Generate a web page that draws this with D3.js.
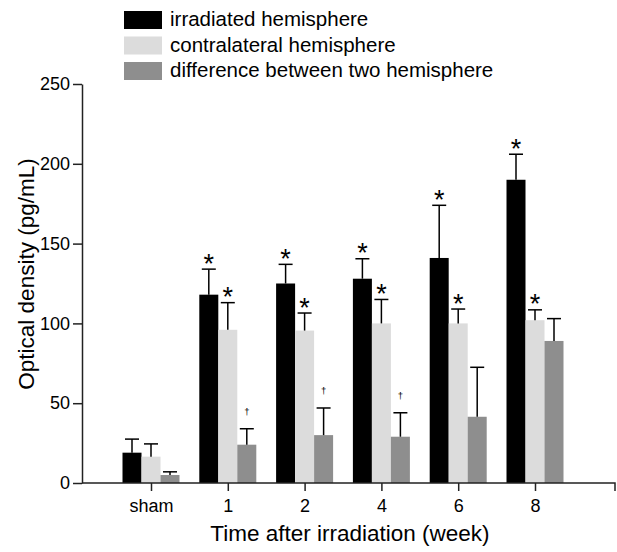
<!DOCTYPE html>
<html>
<head>
  <meta charset="utf-8">
  <title>Optical density after irradiation</title>
<script src="https://cdnjs.cloudflare.com/ajax/libs/d3/7.8.5/d3.min.js"></script>
<style>
body {
  margin: 0;
  background: White;
}

svg text {
  font-family: "Liberation Sans", Arial, Helvetica, sans-serif;
  fill: Black;
}

.axis path,
.axis line {
  stroke: #222;
  stroke-width: 1.5px;
}

.axis text {
  font-size: 18px;
}

.errbar {
  stroke: Black;
  stroke-width: 1.5px;
  fill: none;
}

.title {
  font-size: 22.5px;
}

.legend text {
  font-size: 20.5px;
}
</style>
</head>
<body>
<svg id="chart" width="617" height="552"></svg>
<script>
// values
var categories = ["sham", "1", "2", "4", "6", "8"];
var seriesNames = ["irradiated hemisphere", "contralateral hemisphere", "difference between two hemisphere"];
var seriesColors = ["#000000", "#dcdcdc", "#8e8e8e"];

var irradiated    = [19, 118, 125, 128, 141, 190];
var irradiatedSd  = [8.5, 16, 12, 12.5, 33, 16];
var contralateral = [16.5, 96, 95.5, 100, 100, 102];
var contralateralSd = [8, 17, 11, 15, 9, 6.5];
var difference    = [5, 24, 30, 29, 41.5, 89];
var differenceSd  = [2, 10, 17, 15, 31, 14];

// significance marks above each bar
var irradiatedMark    = ["", "*", "*", "*", "*", "*"];
var contralateralMark = ["", "*", "*", "*", "*", "*"];
var differenceMark    = ["", "\u2020", "\u2020", "\u2020", "", ""];

var yTicks = [0, 50, 100, 150, 200, 250];

var svg = d3.select("#chart");

var plotLeft = 82, plotRight = 615, plotTop = 84, plotBottom = 483;

var y = d3.scaleLinear()
          .domain([0, 250])
          .range([plotBottom, plotTop]);

var x = d3.scalePoint()
          .domain(categories)
          .range([151, 535]);

var xInner = d3.scaleBand()
               .domain(d3.range(3))
               .range([-28.5, 28.5])
               .padding(0);

var allValues = [irradiated, contralateral, difference];
var allSd = [irradiatedSd, contralateralSd, differenceSd];
var allMarks = [irradiatedMark, contralateralMark, differenceMark];

var rows = [];
categories.forEach(function(c, i) {
  for (var s = 0; s < 3; s++) {
    rows.push({cat: c, s: s, v: allValues[s][i], sd: allSd[s][i], mark: allMarks[s][i]});
  }
});

// bars
svg.append("g").selectAll("rect")
  .data(rows)
  .enter().append("rect")
    .attr("x", d => x(d.cat) + xInner(d.s))
    .attr("y", d => y(d.v))
    .attr("width", xInner.bandwidth())
    .attr("height", d => y(0) - y(d.v))
    .style("fill", d => seriesColors[d.s]);

// error bars (upper half only)
var capHalf = 7;
var eb = svg.append("g").selectAll(".eb")
  .data(rows)
  .enter().append("g")
    .attr("class", "eb")
    .attr("transform", d => `translate(${x(d.cat) + xInner(d.s) + xInner.bandwidth()/2}, 0)`);

eb.append("line")
  .attr("class", "errbar")
  .attr("x1", 0).attr("x2", 0)
  .attr("y1", d => y(d.v))
  .attr("y2", d => y(d.v + d.sd));

eb.append("line")
  .attr("class", "errbar")
  .attr("x1", -capHalf).attr("x2", capHalf)
  .attr("y1", d => y(d.v + d.sd))
  .attr("y2", d => y(d.v + d.sd));

eb.filter(d => d.mark == "*")
  .append("text")
    .attr("y", d => y(d.v + d.sd) + 3.5)
    .style("text-anchor", "middle")
    .style("font-size", "27px")
    .text(d => d.mark);

eb.filter(d => d.mark == "\u2020")
  .append("text")
    .attr("y", d => y(d.v + d.sd) - 14)
    .style("text-anchor", "middle")
    .style("font-size", "9.5px")
    .text(d => d.mark);

// y axis
svg.append("g")
  .attr("class", "axis")
  .attr("transform", `translate(${plotLeft}, 0)`)
  .call(d3.axisLeft(y).tickValues(yTicks).tickSize(9).tickPadding(3).tickSizeOuter(0));

// x axis
var gx = svg.append("g")
  .attr("class", "axis")
  .attr("transform", `translate(0, ${plotBottom})`)
  .call(d3.axisBottom(x).tickSize(8).tickPadding(8));
gx.select(".domain").remove();
gx.append("path")
  .attr("d", `M${plotLeft},0H${plotRight}V8`)
  .style("fill", "none");

// axis titles
svg.append("text")
  .attr("class", "title")
  .attr("x", 350)
  .attr("y", 541)
  .style("text-anchor", "middle")
  .text("Time after irradiation (week)");

svg.append("text")
  .attr("class", "title")
  .attr("transform", "translate(34, 274) rotate(-90)")
  .style("text-anchor", "middle")
  .text("Optical density (pg/mL)");

// legend
var legend = svg.append("g")
  .attr("class", "legend")
  .attr("transform", "translate(124, 11)");

var li = legend.selectAll("g")
  .data(seriesNames)
  .enter().append("g")
    .attr("transform", (d, i) => `translate(0, ${i * 25.5})`);

li.append("rect")
  .attr("width", 38)
  .attr("height", 18)
  .style("fill", (d, i) => seriesColors[i]);

li.append("text")
  .attr("x", 46)
  .attr("y", 15)
  .text(d => d);
</script>
</body>
</html>
